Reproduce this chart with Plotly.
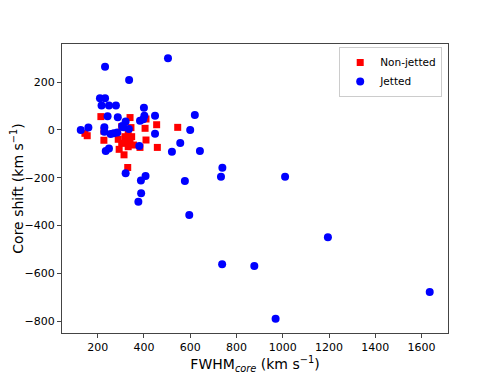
import plotly.graph_objects as go

# Non-jetted sources: FWHM of core component vs core shift (km/s)
nonjet_fwhm = [214, 340, 409, 455, 546, 405, 304, 344, 227, 145, 155, 227, 289, 318,
               340, 409, 355, 332, 383, 458, 293, 314, 330, 325, 347, 304, 332]
nonjet_shift = [56, 52, 46, 22, 11, 7, 14, 10, -5, -14, -24, -43, -39, -28,
                -42, -42, -63, -70, -73, -73, -81, -104, -157, -49, -28, -56, -14]

# Jetted sources
jet_fwhm = [232, 504, 336, 210, 232, 217, 249, 279, 400, 243, 287, 448, 620, 321,
            383, 397, 402, 127, 160, 229, 311, 335, 256, 270, 285, 448, 600, 557,
            380, 235, 249, 521, 642, 321, 407, 387, 577, 739, 733, 388, 376, 596,
            1010, 1195, 738, 877, 1635, 969, 306, 229]
jet_shift = [265, 300, 209, 133, 133, 102, 102, 102, 93, 58, 53, 60, 63, 35,
             39, 45, 60, 0, 10, 11, 11, 4, -17, -14, -11, -16, 0, -54,
             -67, -88, -78, -91, -88, -181, -193, -212, -214, -158, -196, -265, -300, -356,
             -196, -449, -562, -570, -678, -790, 17, -7]

fig = go.Figure()
fig.add_trace(go.Scatter(x=nonjet_fwhm, y=nonjet_shift, mode="markers", name="Non-jetted",
                         marker=dict(symbol="square", size=7, color="#ff0000")))
fig.add_trace(go.Scatter(x=jet_fwhm, y=jet_shift, mode="markers", name="Jetted",
                         marker=dict(symbol="circle", size=8, color="#0000ff")))

axis_style = dict(showgrid=False, zeroline=False, showline=True, linecolor="#444444",
                  linewidth=1, mirror=True, ticks="outside", ticklen=4,
                  tickcolor="#444444", tickfont=dict(size=11, color="black"),
                  automargin=False)

fig.update_xaxes(range=[46, 1714], tickvals=[200, 400, 600, 800, 1000, 1200, 1400, 1600],
                 title=dict(text="FWHM<sub><i>core</i></sub> (km s<sup>−1</sup>)",
                            font=dict(size=14, color="black"), standoff=1),
                 **axis_style)
fig.update_yaxes(range=[-850, 360], tickvals=[200, 0, -200, -400, -600, -800],
                 tickformat="d",
                 title=dict(text="Core shift (km s<sup>−1</sup>)",
                            font=dict(size=14, color="black"), standoff=4),
                 **axis_style)

# page body adds an 8px offset, so the figure is a bit smaller than the window
fig.update_layout(
    width=490, height=366,
    margin=dict(l=54, r=50, t=36, b=41),
    plot_bgcolor="white", paper_bgcolor="white",
    font=dict(family="DejaVu Sans", color="black"),
    legend=dict(x=0.985, y=0.99, xanchor="right", yanchor="top",
                bordercolor="#cccccc", borderwidth=1, bgcolor="white",
                font=dict(size=10.5), itemwidth=30, tracegroupgap=0),
    showlegend=True,
)

fig.write_html("out.html")
